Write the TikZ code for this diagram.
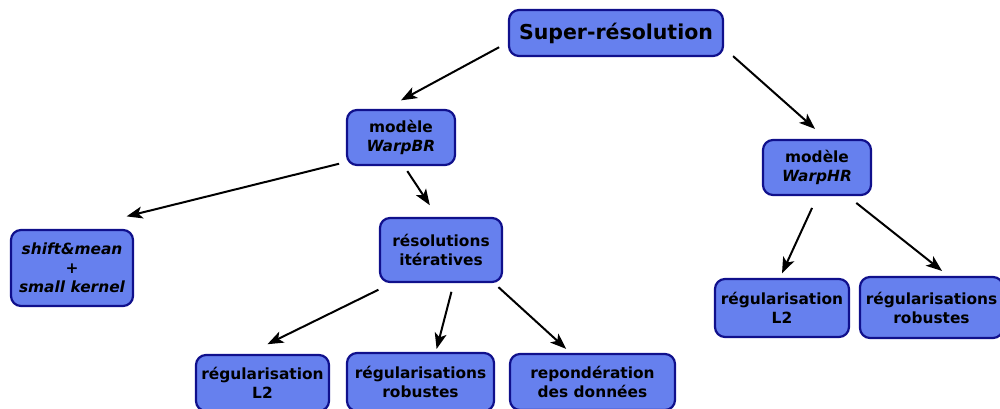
\documentclass[tikz,border=0pt]{standalone}
\usepackage{fontspec}
\setmainfont{DejaVu Sans}
\usetikzlibrary{arrows.meta}
\definecolor{boxfill}{RGB}{102,128,238}
\definecolor{boxline}{RGB}{16,16,140}
\begin{document}
\begin{tikzpicture}[
  x=1pt, y=-1pt,
  box/.style={draw=boxline,fill=boxfill,line width=2.2pt,rounded corners=10pt,
    inner sep=0pt,align=center,font=\fontsize{15.4}{19}\selectfont\bfseries},
  link/.style={draw,line width=2pt,-{Stealth[length=16pt,width=12pt,inset=4pt]}}
]
\useasboundingbox (0,0) rectangle (1000,408);
\node[box,minimum width=214pt,minimum height=46pt,font=\fontsize{20.5}{24}\selectfont\bfseries] (super) at (616,33) {Super-résolution};
\node[box,minimum width=108pt,minimum height=55pt] (warpbr) at (401,137.5) {modèle\\\itshape WarpBR};
\node[box,minimum width=108pt,minimum height=55pt] (warphr) at (817,167.5) {modèle\\\itshape WarpHR};
\node[box,minimum width=122pt,minimum height=76pt,font=\fontsize{15.4}{19}\selectfont\bfseries\itshape] (shift) at (72,268) {shift\&mean\\+\\small kernel};
\node[box,minimum width=122pt,minimum height=64pt] (resol) at (441,250) {résolutions\\itératives};
\node[box,minimum width=133pt,minimum height=56pt] (l2b) at (262.5,383) {régularisation\\L2};
\node[box,minimum width=147pt,minimum height=58pt] (robb) at (420.5,382) {régularisations\\robustes};
\node[box,minimum width=165pt,minimum height=56pt] (repb) at (592.5,382) {repondération\\des données};
\node[box,minimum width=134pt,minimum height=58pt] (l2r) at (782,308) {régularisation\\L2};
\node[box,minimum width=143pt,minimum height=61pt] (robr) at (931.5,307.5) {régularisations\\robustes};

\draw[link,shorten <=10pt,shorten >=18pt] (super.-175) -- (warpbr.119);
\draw[link,shorten <=12pt,shorten >=15pt] (super.-8) -- (warphr.72);
\draw[link,shorten <=7pt,shorten >=52pt] (warpbr.204) -- (shift.84);
\draw[link,shorten <=6pt,shorten >=14pt] (warpbr.-84) -- (resol.96);
\draw[link,shorten <=15pt,shorten >=22pt] (resol.-146) -- (l2b.117);
\draw[link,shorten <=9pt,shorten >=3pt] (resol.-69) -- (robb.63);
\draw[link,shorten <=6pt,shorten >=6pt] (resol.-32) -- (repb.127);
\draw[link,shorten <=13pt,shorten >=5pt] (warphr.-89) -- (l2r.94);
\draw[link,shorten <=11pt,shorten >=8pt] (warphr.-43) -- (robr.62);
\end{tikzpicture}
\end{document}
